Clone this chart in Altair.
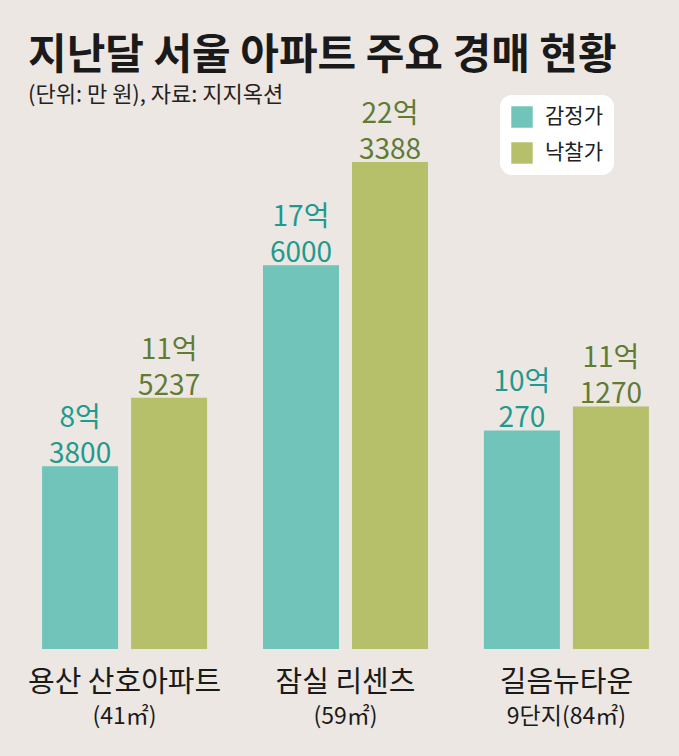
import altair as alt
import pandas as pd

# ---- data (values in 만 원) ----
complexes = ["용산 산호아파트", "잠실 리센츠", "길음뉴타운"]
complex_sizes = ["(41㎡)", "(59㎡)", "9단지(84㎡)"]
series = ["감정가", "낙찰가"]
appraisal = [83800, 176000, 100270]
winning = [115237, 223388, 111270]

FONT = "Noto Sans CJK KR"
BG = "#ece7e3"
TEAL, OLIVE = "#70c4ba", "#b6bf69"
TEAL_TXT, OLIVE_TXT = "#1f9a8e", "#5f7b34"


def fmt(v):
    eok, man = divmod(v, 10000)
    return f"{eok}억\n{man}"


rows = []
for c, a, w in zip(complexes, appraisal, winning):
    rows.append({"complex": c, "series": series[0], "value": a, "label": fmt(a)})
    rows.append({"complex": c, "series": series[1], "value": w, "label": fmt(w)})
df = pd.DataFrame(rows)
sizes_df = pd.DataFrame({"complex": complexes, "size": complex_sizes})

W, H = 651, 545

x_enc = alt.X(
    "complex:N",
    sort=complexes,
    scale=alt.Scale(paddingInner=0.253, paddingOuter=0.1),
    axis=alt.Axis(
        title=None, domain=False, ticks=False, labelAngle=0,
        labelFontSize=29, labelFont=FONT, labelColor="#1a1a1a",
        labelPadding=19, labelLimit=400,
    ),
)
xo_enc = alt.XOffset("series:N", sort=series,
                     scale=alt.Scale(paddingInner=0.146, paddingOuter=0))
y_enc = alt.Y("value:Q", scale=alt.Scale(domain=[0, 250000]), axis=None)

bars = alt.Chart(df).mark_bar().encode(
    x=x_enc,
    xOffset=xo_enc,
    y=y_enc,
    color=alt.Color(
        "series:N", sort=series,
        scale=alt.Scale(domain=series, range=[TEAL, OLIVE]),
        legend=alt.Legend(
            title=None, orient="none", legendX=480, legendY=-9,
            fillColor="white", cornerRadius=12, padding=11,
            symbolType="square", symbolSize=460, symbolStrokeWidth=0,
            labelFontSize=21, labelFont=FONT, labelColor="#222222",
            rowPadding=14, labelOffset=12,
        ),
    ),
)

value_labels = alt.Chart(df).mark_text(
    baseline="alphabetic", dy=-39, fontSize=28, lineHeight=36,
    lineBreak="\n", font=FONT,
).encode(
    x=x_enc,
    xOffset=xo_enc,
    y=y_enc,
    text="label:N",
    color=alt.condition(alt.datum.series == series[0],
                        alt.value(TEAL_TXT), alt.value(OLIVE_TXT)),
)

size_labels = alt.Chart(sizes_df).mark_text(
    fontSize=23, font=FONT, color="#1a1a1a", baseline="middle",
).encode(
    x=alt.X("complex:N", sort=complexes),
    y=alt.value(H + 68),
    text="size:N",
)

chart = (
    alt.layer(bars, value_labels, size_labels)
    .properties(
        width=W, height=H,
        autosize=alt.AutoSizeParams(type="none"),
        padding={"left": 20, "top": 104, "right": 8, "bottom": 107},
        title=alt.TitleParams(
            text="지난달 서울 아파트 주요 경매 현황",
            subtitle="(단위: 만 원), 자료: 지지옥션",
            anchor="start", frame="group", dx=8, offset=-12,
            font=FONT, fontSize=42, fontWeight="bold", color="#1a1a1a",
            subtitleFont=FONT, subtitleFontSize=22, subtitleColor="#222222",
            subtitlePadding=7,
        ),
    )
    .configure(background=BG)
    .configure_view(stroke=None)
)

chart.save("out.html", embed_options={"renderer": "svg", "actions": False})
